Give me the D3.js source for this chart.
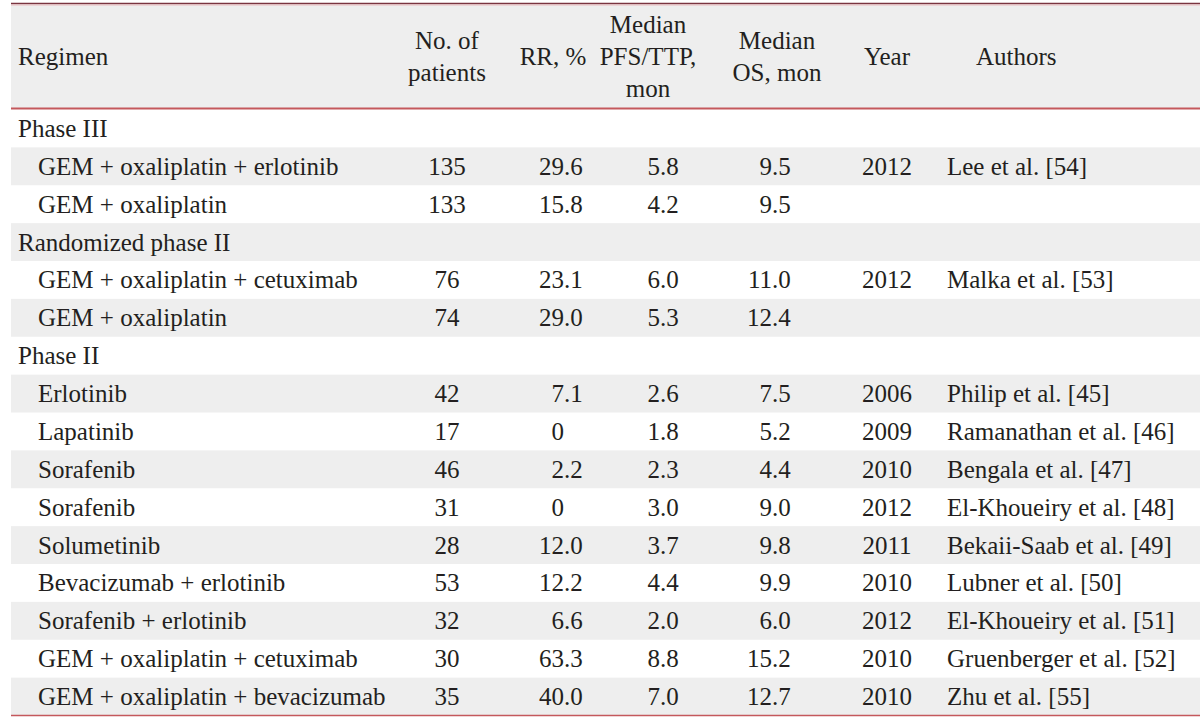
<!DOCTYPE html>
<html>
<head>
<meta charset="utf-8">
<script src="https://cdn.jsdelivr.net/npm/d3@7"></script>
<style>
  html, body { margin: 0; padding: 0; background: #ffffff; }
  svg text { font-family: "Liberation Serif", "DejaVu Serif", serif; fill: #231f20; }
</style>
</head>
<body>
<svg id="chart" width="1200" height="722"></svg>
<script>
// ---- data ----
const rowKinds = ["section","data","data","section","data","data","section",
  "data","data","data","data","data","data","data","data","data"];
const regimens = ["Phase III", "GEM + oxaliplatin + erlotinib", "GEM + oxaliplatin",
  "Randomized phase II", "GEM + oxaliplatin + cetuximab", "GEM + oxaliplatin",
  "Phase II", "Erlotinib", "Lapatinib", "Sorafenib", "Sorafenib", "Solumetinib",
  "Bevacizumab + erlotinib", "Sorafenib + erlotinib", "GEM + oxaliplatin + cetuximab",
  "GEM + oxaliplatin + bevacizumab"];
const patients = ["", "135", "133", "", "76", "74", "", "42", "17", "46", "31", "28", "53", "32", "30", "35"];
const rrValues = ["", "29.6", "15.8", "", "23.1", "29.0", "", "7.1", "0", "2.2", "0", "12.0", "12.2", "6.6", "63.3", "40.0"];
const pfsValues = ["", "5.8", "4.2", "", "6.0", "5.3", "", "2.6", "1.8", "2.3", "3.0", "3.7", "4.4", "2.0", "8.8", "7.0"];
const osValues = ["", "9.5", "9.5", "", "11.0", "12.4", "", "7.5", "5.2", "4.4", "9.0", "9.8", "9.9", "6.0", "15.2", "12.7"];
const years = ["", "2012", "", "", "2012", "", "", "2006", "2009", "2010", "2012", "2011", "2010", "2012", "2010", "2010"];
const authors = ["", "Lee et al. [54]", "", "", "Malka et al. [53]", "", "",
  "Philip et al. [45]", "Ramanathan et al. [46]", "Bengala et al. [47]",
  "El-Khoueiry et al. [48]", "Bekaii-Saab et al. [49]", "Lubner et al. [50]",
  "El-Khoueiry et al. [51]", "Gruenberger et al. [52]", "Zhu et al. [55]"];
const headers = [
  {lines: ["Regimen"], key: "reg"},
  {lines: ["No. of", "patients"], key: "pat"},
  {lines: ["RR, %"], key: "rr"},
  {lines: ["Median", "PFS/TTP,", "mon"], key: "pfs"},
  {lines: ["Median", "OS, mon"], key: "os"},
  {lines: ["Year"], key: "year"},
  {lines: ["Authors"], key: "auth"}
];

// ---- layout ----
const W = 1200, left = 11, right = 1200;
const headTop = 4, headBottom = 108.5, tableBottom = 715.5;
const FS = 25;
const svg = d3.select("#chart");

const y = d3.scaleBand().domain(d3.range(regimens.length))
  .range([headBottom + 1, tableBottom]).paddingInner(0).paddingOuter(0);

// column anchors
const col = {
  reg: {x: 18, anchor: "start"},
  regData: {x: 38, anchor: "start"},
  pat: {x: 447, anchor: "middle"},
  rr: {x: 553, anchor: "middle", dec: 564},
  pfs: {x: 648, anchor: "middle", dec: 660},
  os: {x: 777, anchor: "middle", dec: 772},
  year: {x: 887, anchor: "middle"},
  auth: {x: 976, anchor: "start"},
  authData: {x: 947, anchor: "start"}
};

// header background
svg.append("rect").attr("x", left).attr("y", headTop).attr("width", right - left)
  .attr("height", headBottom - headTop).attr("fill", "#eeeeee");

// stripes
svg.selectAll("rect.stripe").data(d3.range(regimens.length).filter(i => i % 2 === 1))
  .join("rect").attr("class", "stripe")
  .attr("x", left).attr("width", right - left)
  .attr("y", i => y(i)).attr("height", y.bandwidth())
  .attr("fill", "#eeeeee");

// header text
const lineGap = 32, headMid = 56;
headers.forEach(h => {
  const c = col[h.key];
  const n = h.lines.length;
  h.lines.forEach((t, k) => {
    const cy = headMid + (k - (n - 1) / 2) * lineGap;
    svg.append("text").attr("x", c.x).attr("y", cy + 8.5)
      .attr("text-anchor", c.anchor).attr("font-size", FS).text(t);
  });
});

const base = i => y(i) + y.bandwidth() / 2 + 8.5;

// regimen column
svg.selectAll("text.reg").data(regimens).join("text").attr("class", "reg")
  .attr("x", (d, i) => rowKinds[i] === "section" ? col.reg.x : col.regData.x)
  .attr("y", (d, i) => base(i)).attr("font-size", FS).text(d => d);

// centered text columns
function centered(arr, c, cls) {
  svg.selectAll("text." + cls).data(arr).join("text").attr("class", cls)
    .attr("x", c.x).attr("y", (d, i) => base(i)).attr("text-anchor", "middle")
    .attr("font-size", FS).text(d => d);
}
centered(patients, col.pat, "pat");
centered(years, col.year, "year");

// decimal-aligned columns
function decimal(arr, c, cls) {
  const g = svg.append("g");
  arr.forEach((d, i) => {
    if (!d) return;
    const parts = d.split(".");
    g.append("text").attr("class", cls).attr("x", c.dec).attr("y", base(i))
      .attr("text-anchor", "end").attr("font-size", FS).text(parts[0]);
    if (parts.length > 1) {
      g.append("text").attr("class", cls).attr("x", c.dec).attr("y", base(i))
        .attr("text-anchor", "start").attr("font-size", FS).text("." + parts[1]);
    }
  });
}
decimal(rrValues, col.rr, "rr");
decimal(pfsValues, col.pfs, "pfs");
decimal(osValues, col.os, "os");

// authors
svg.selectAll("text.auth").data(authors).join("text").attr("class", "auth")
  .attr("x", col.authData.x).attr("y", (d, i) => base(i)).attr("font-size", FS).text(d => d);

// rules
svg.append("line").attr("x1", left).attr("x2", right).attr("y1", 3.5).attr("y2", 3.5)
  .attr("stroke", "#7a3440").attr("stroke-width", 1.6);
svg.append("line").attr("x1", left).attr("x2", right).attr("y1", 5).attr("y2", 5)
  .attr("stroke", "#eab9bd").attr("stroke-width", 1);
svg.append("line").attr("x1", left).attr("x2", right).attr("y1", headBottom).attr("y2", headBottom)
  .attr("stroke", "#c4585c").attr("stroke-width", 2);
svg.append("line").attr("x1", left).attr("x2", right).attr("y1", tableBottom).attr("y2", tableBottom)
  .attr("stroke", "#c4585c").attr("stroke-width", 1.3);
</script>
</body>
</html>
